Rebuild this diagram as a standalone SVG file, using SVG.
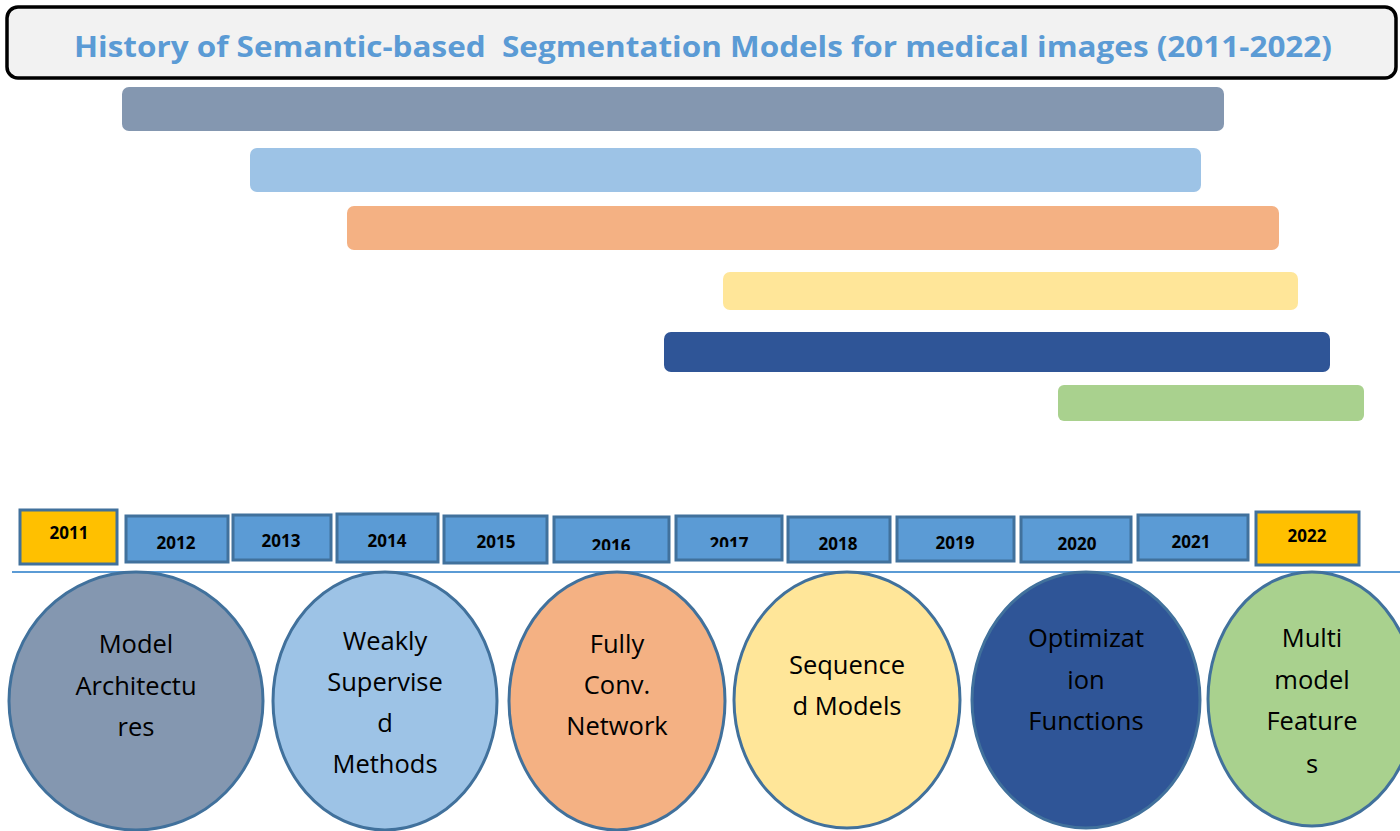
<svg xmlns="http://www.w3.org/2000/svg" width="1400" height="831" viewBox="0 0 1400 831">
<style>
.bar{stroke:none}
.yr{stroke:#41719c;stroke-width:3}
.yb{fill:#5b9bd5}
.yy{fill:#ffc000}
.yt{font-family:"Open Sans","Liberation Sans",sans-serif;font-weight:bold;font-size:17px;fill:#000;text-anchor:middle}
.cir{stroke:#41719c;stroke-width:3}
.ct{font-family:"Open Sans","Liberation Sans",sans-serif;font-size:25.5px;fill:#000;text-anchor:middle}
</style>
<defs>
<clipPath id="c2016"><rect x="554" y="517" width="115" height="33"/></clipPath>
<clipPath id="c2017"><rect x="676" y="516" width="106" height="31"/></clipPath>
<clipPath id="cmulti"><rect x="1200" y="572" width="200" height="201"/></clipPath>
</defs>
<rect width="1400" height="831" fill="#ffffff"/>
<g id="title">
<rect x="7" y="7" width="1389" height="71" rx="11" fill="#f2f2f2" stroke="#000" stroke-width="3.5"/>
<text x="703" y="57" font-family="Open Sans,Liberation Sans,sans-serif" font-weight="bold" font-size="29" fill="#5b9bd5" text-anchor="middle" xml:space="preserve" textLength="1258" lengthAdjust="spacingAndGlyphs">History of Semantic-based  Segmentation Models for medical images (2011-2022)</text>
</g>
<g id="bars">
<rect class="bar" x="122" y="87" width="1102" height="44" rx="7" fill="#8497b0"/>
<rect class="bar" x="250" y="148" width="951" height="44" rx="7" fill="#9dc3e6"/>
<rect class="bar" x="347" y="206" width="932" height="44" rx="7" fill="#f4b183"/>
<rect class="bar" x="723" y="272" width="575" height="38" rx="7" fill="#ffe699"/>
<rect class="bar" x="664" y="332" width="666" height="40" rx="7" fill="#2f5597"/>
<rect class="bar" x="1058" y="385" width="306" height="36" rx="6" fill="#a9d18e"/>
</g>
<g id="years">
<g id="y2011"><rect class="yr yy" x="20" y="510" width="97" height="54"/><text class="yt" x="69" y="539" font-size="16">2011</text></g>
<g id="y2012"><rect class="yr yb" x="126" y="516" width="102" height="46"/><text class="yt" x="176" y="549">2012</text></g>
<g id="y2013"><rect class="yr yb" x="233" y="515" width="98" height="45"/><text class="yt" x="281" y="547">2013</text></g>
<g id="y2014"><rect class="yr yb" x="337" y="514" width="101" height="48"/><text class="yt" x="387" y="547">2014</text></g>
<g id="y2015"><rect class="yr yb" x="444" y="516" width="103" height="47"/><text class="yt" x="496" y="548">2015</text></g>
<g id="y2016"><rect class="yr yb" x="554" y="517" width="115" height="45"/><text class="yt" x="611" y="552" clip-path="url(#c2016)">2016</text></g>
<g id="y2017"><rect class="yr yb" x="676" y="516" width="106" height="44"/><text class="yt" x="729" y="550" clip-path="url(#c2017)">2017</text></g>
<g id="y2018"><rect class="yr yb" x="788" y="517" width="102" height="45"/><text class="yt" x="838" y="550">2018</text></g>
<g id="y2019"><rect class="yr yb" x="897" y="517" width="117" height="44"/><text class="yt" x="955" y="549">2019</text></g>
<g id="y2020"><rect class="yr yb" x="1021" y="517" width="110" height="45"/><text class="yt" x="1077" y="550">2020</text></g>
<g id="y2021"><rect class="yr yb" x="1138" y="515" width="110" height="45"/><text class="yt" x="1191" y="548">2021</text></g>
<g id="y2022"><rect class="yr yy" x="1256" y="512" width="103" height="53"/><text class="yt" x="1307" y="542">2022</text></g>
</g>
<g id="connectors">
<line x1="12" y1="572" x2="1400" y2="572" stroke="#5b9bd5" stroke-width="2"/>
</g>
<g id="c1"><ellipse class="cir" cx="136" cy="701" rx="127" ry="129" fill="#8497b0"/>
<text class="ct" x="136" y="653">Model</text><text class="ct" x="136" y="695">Architectu</text><text class="ct" x="136" y="736">res</text></g>
<g id="c2"><ellipse class="cir" cx="385" cy="701" rx="112" ry="129" fill="#9dc3e6"/>
<text class="ct" x="385" y="650">Weakly</text><text class="ct" x="385" y="691">Supervise</text><text class="ct" x="385" y="732">d</text><text class="ct" x="385" y="773">Methods</text></g>
<g id="c3"><ellipse class="cir" cx="617" cy="701" rx="108" ry="129" fill="#f4b183"/>
<text class="ct" x="617" y="653">Fully</text><text class="ct" x="617" y="694">Conv.</text><text class="ct" x="617" y="735">Network</text></g>
<g id="c4"><ellipse class="cir" cx="847" cy="700" rx="113" ry="128" fill="#ffe699"/>
<text class="ct" x="847" y="674">Sequence</text><text class="ct" x="847" y="715">d Models</text></g>
<g id="c5"><ellipse class="cir" cx="1086" cy="700" rx="114" ry="128" fill="#2f5597"/>
<text class="ct" x="1086" y="647">Optimizat</text><text class="ct" x="1086" y="689">ion</text><text class="ct" x="1086" y="730">Functions</text></g>
<g id="c6"><ellipse class="cir" cx="1312" cy="699" rx="104" ry="127" fill="#a9d18e"/>
<text class="ct" x="1312" y="647">Multi</text><text class="ct" x="1312" y="689">model</text><text class="ct" x="1312" y="730">Feature</text><text class="ct" x="1312" y="773" clip-path="url(#cmulti)">s</text></g>
</svg>
